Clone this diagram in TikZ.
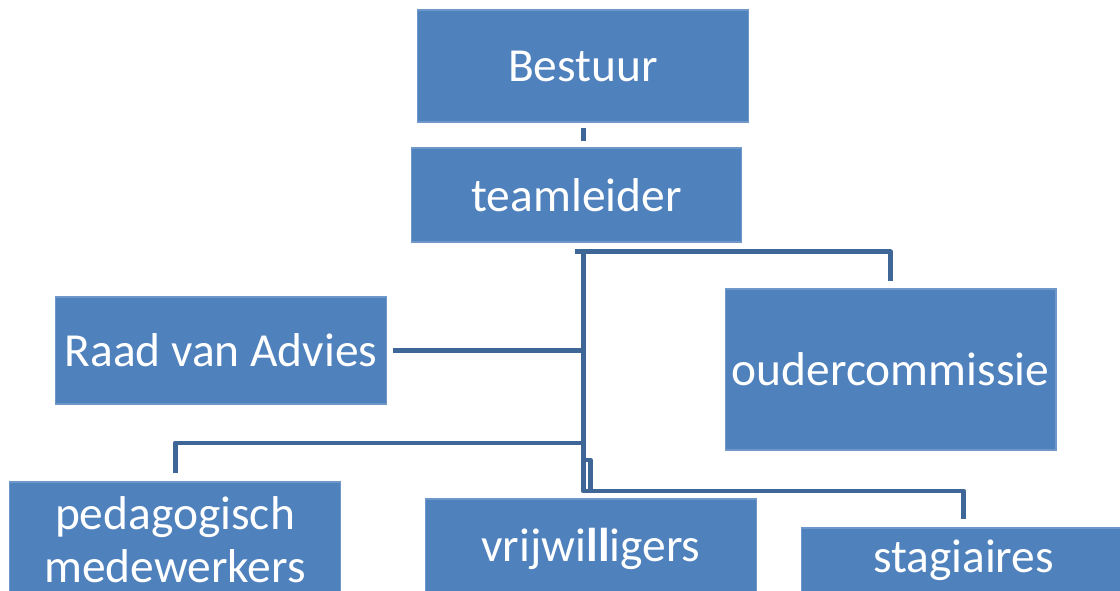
\documentclass[tikz,border=0pt]{standalone}
\usepackage{fontspec}
\setmainfont{Carlito}
\definecolor{boxblue}{HTML}{4F81BD}
\definecolor{boxedge}{HTML}{6E98CA}
\definecolor{linkblue}{HTML}{3E6797}
\begin{document}
\begin{tikzpicture}[x=0.02cm, y=-0.02cm,
	main/.style = {draw=boxedge, fill=boxblue, text=white, line width=0.6pt, inner sep=0pt,
		minimum width=6.62cm, align=center, font=\fontsize{27}{30}\selectfont},
	link/.style = {draw=linkblue, line width=0.1cm, line join=round}]
	\useasboundingbox (0,0) rectangle (1120,591);
	\clip (0,0) rectangle (1120,591);
	\node[main, minimum height=2.24cm] (bestuur) at (583,66) {Bestuur};
	\node[main, minimum height=1.88cm] (team) at (576.5,195) {teamleider};
	\node[main, minimum height=2.14cm] (raad) at (221,350.5) {Raad van Advies};
	\node[main, minimum height=3.22cm] (ouder) at (890.5,369.5) {oudercommissie};
	\node[main, minimum height=2.32cm] (peda) at (175,540) {pedagogisch\\medewerkers};
	\node[main, minimum height=2.0cm] (vrij) at (591,549) {vrijwi\textbf{ll}igers};
	\node[main, minimum height=1.28cm, minimum width=6.5cm] (stag) at (963.5,560) {stagiaires};
	% connectors
	\coordinate (hub) at (583,252);
	\coordinate (low) at (583,491);
	\draw[link] ([yshift=-0.1cm]bestuur.south) -- ([yshift=0.12cm]bestuur.south |- team.north);
	\draw[link] ([xshift=-0.16cm]hub) -| ([yshift=0.14cm]ouder.north);
	\draw[link] (hub) -- (low) -| ([yshift=0.16cm]stag.north);
	\draw[link] ([xshift=0.12cm]raad.east) -- (raad.east -| hub);
	\draw[link] (583,443) -| ([yshift=0.16cm]peda.north);
	\draw[link] (583,460) -- (590,460) -- (590,491);
\end{tikzpicture}
\end{document}
